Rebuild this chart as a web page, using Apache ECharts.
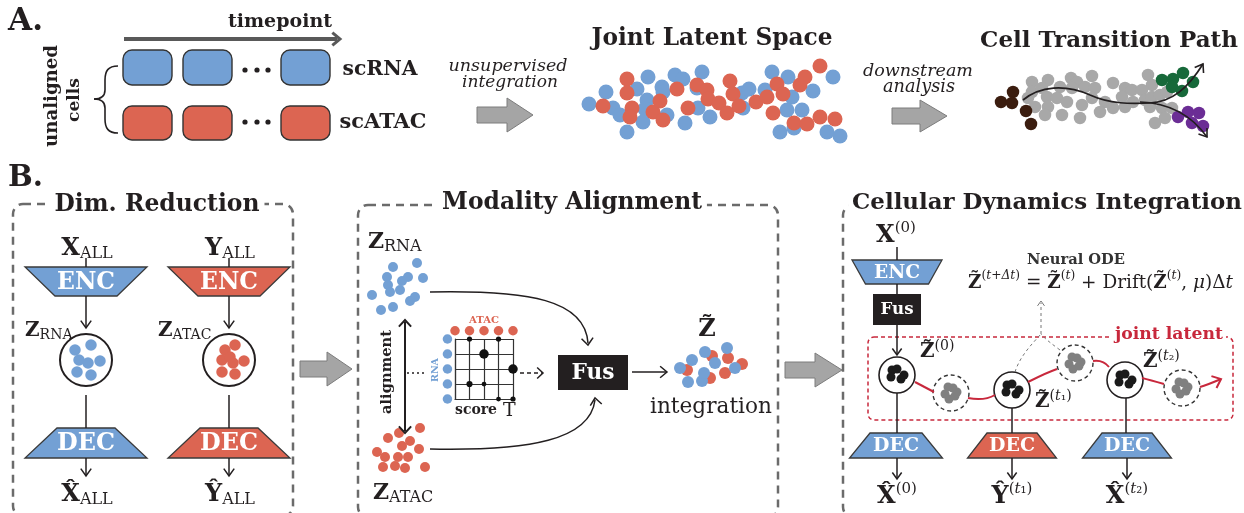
<!DOCTYPE html>
<html>
<head>
<meta charset="utf-8">
<script src="https://cdn.jsdelivr.net/npm/echarts@6/dist/echarts.min.js"></script>
<style>
html, body { margin: 0; padding: 0; background: #fff; }
#main { width: 1244px; height: 513px; }
</style>
</head>
<body>
<div id="main"></div>
<script>
// ---- data: cell embeddings ----
const jointBlue = [[589,104],[606,92],[613,108],[620,115],[627,132],[637,89],[648,77],[647,100],[645,109],[643,122],[662,87],[663,92],[667,115],[675,75],[683,79],[685,123],[698,108],[697,88],[702,72],[710,117],[742,93],[749,89],[743,108],[765,90],[772,72],[788,77],[792,97],[787,110],[802,110],[813,91],[833,77],[780,132],[794,128],[827,132],[840,136]];
const jointRed = [[603,106],[627,79],[627,93],[632,108],[630,117],[653,112],[660,101],[663,120],[677,89],[688,108],[697,85],[707,90],[708,99],[719,103],[730,81],[733,94],[739,106],[727,113],[756,102],[767,97],[777,84],[783,94],[773,113],[800,85],[805,77],[794,123],[807,124],[820,66],[820,117],[835,119]];

const pathGray = [[1032,82],[1048,80],[1071,78],[1077,82],[1092,76],[1032,92],[1042,88],[1060,87],[1072,88],[1085,87],[1095,88],[1113,83],[1125,88],[1132,90],[1148,75],[1152,85],[1142,90],[1047,97],[1057,98],[1048,107],[1035,107],[1067,102],[1082,105],[1092,98],[1105,102],[1113,108],[1122,97],[1133,102],[1145,100],[1152,97],[1160,95],[1167,92],[1045,115],[1062,115],[1080,118],[1100,112],[1125,107],[1150,107],[1162,108],[1172,108],[1165,118],[1155,123],[1028,98]];
const pathBrown = [[1001,102],[1013,92],[1012,103],[1026,111],[1031,124]];
const pathGreen = [[1162,80],[1173,79],[1183,73],[1193,82],[1172,87],[1182,91]];
const pathPurple = [[1178,117],[1188,112],[1199,113],[1192,123],[1203,126]];

const dimBlue = [[75,350],[91,345],[79,360],[88,363],[100,361],[77,372],[91,375]];
const dimRed = [[235,345],[225,350],[222,360],[233,363],[244,361],[230,357],[222,372],[235,374]];

const alignBlue = [[393,267],[417,263],[387,277],[408,277],[402,281],[423,278],[388,285],[390,292],[400,290],[372,295],[415,297],[410,301],[393,307],[381,310]];
const alignRed = [[420,428],[399,433],[388,438],[410,441],[402,446],[419,449],[377,452],[385,457],[398,457],[408,457],[383,467],[395,466],[405,468],[425,467]];

const mixRed = [[687,370],[712,356],[728,358],[742,364],[725,373],[710,378]];
const mixBlue = [[680,368],[692,360],[705,352],[715,363],[727,348],[735,368],[688,382],[702,381],[704,373]];

const latentSolid = [[892,370],[897,369],[891,377],[901,379],[904,375],[1007,385],[1012,384],[1006,392],[1016,394],[1019,390],[1120,375],[1125,374],[1119,382],[1129,384],[1132,380]];
const latentGhost = [[948,387],[953,388],[945,394],[949,399],[955,396],[957,392],[1072,357],[1077,358],[1069,364],[1073,369],[1079,366],[1081,362],[1179,382],[1184,383],[1176,389],[1180,394],[1186,391],[1188,387]];

// score matrix T: [atac column, rna row, weight]
const atacBins = [0, 1, 2, 3, 4];
const rnaBins = [0, 1, 2, 3, 4];
const scoreT = [[1,0,0.55],[3,0,0.55],[2,1,1],[4,2,1],[1,3,0.65],[2,3,0.5],[3,4,0.5],[4,4,0.55]];

// ---- drawing helpers ----
const SERIF = '"DejaVu Serif", "Liberation Serif", serif';
const BLUE = '#73A0D4', RED = '#DC6552', INK = '#231F20', DASH = '#6B6B6B', JRED = '#C8283C';

const mctx = document.createElement('canvas').getContext('2d');
function textWidth(font, s) { mctx.font = font; return mctx.measureText(s).width; }
function fontStr(size, flags) {
  flags = flags || '';
  return (flags.indexOf('i') >= 0 ? 'italic ' : '') + (flags.indexOf('b') >= 0 ? 'bold ' : '') + size.toFixed(2) + 'px ' + SERIF;
}

const els = [];
function push(e, z) { e.z = z; e.silent = true; els.push(e); }

function T(x, y, text, o) {
  o = o || {};
  let size = o.size || 16;
  if (o.w) size = size * o.w / textWidth(fontStr(size, o.flags), text);
  const align = o.align || 'center';
  push({
    type: 'text', x: x, y: y, rotation: o.rot || 0,
    style: {
      text: text, font: fontStr(size, o.flags), fill: o.color || INK,
      align: align, verticalAlign: 'middle', textAlign: align, textVerticalAlign: 'middle',
      backgroundColor: o.bg || null, padding: o.pad || 0
    }
  }, 10);
}

// math-like label: parts = [text, size, flags, dy]
function M(x, y, parts, o) {
  o = o || {};
  let total = 0;
  parts.forEach(p => { total += textWidth(fontStr(p[1], p[2]), p[0]); });
  const k = o.w ? o.w / total : 1;
  let cx = o.align === 'left' ? x : x - total * k / 2;
  parts.forEach(p => {
    const f = fontStr(p[1] * k, p[2]);
    push({
      type: 'text', x: cx, y: y + (p[3] || 0) * k,
      style: { text: p[0], font: f, fill: o.color || INK, align: 'left', verticalAlign: 'middle', textAlign: 'left', textVerticalAlign: 'middle' }
    }, 10);
    cx += textWidth(f, p[0]);
  });
}

function L(x1, y1, x2, y2, o) {
  o = o || {};
  push({ type: 'line', shape: { x1, y1, x2, y2 },
    style: { stroke: o.color || INK, lineWidth: o.lw || 1.5, lineDash: o.dash || null } }, o.z || 3);
}
function head(x, y, ang, o) {
  o = o || {};
  const s = o.s || 8, a = o.a || 0.62;
  push({ type: 'polyline', shape: { points: [
      [x - s * Math.cos(ang - a), y - s * Math.sin(ang - a)], [x, y],
      [x - s * Math.cos(ang + a), y - s * Math.sin(ang + a)]] },
    style: { stroke: o.color || INK, lineWidth: o.hlw || o.lw || 1.5, fill: 'none' } }, o.z || 3);
}
function A(x1, y1, x2, y2, o) {
  L(x1, y1, x2, y2, o);
  head(x2, y2, Math.atan2(y2 - y1, x2 - x1), Object.assign({}, o, { dash: null }));
}
function C(p, o) {
  o = o || {};
  push({ type: 'bezierCurve', shape: { x1: p[0], y1: p[1], cpx1: p[2], cpy1: p[3], cpx2: p[4], cpy2: p[5], x2: p[6], y2: p[7] },
    style: { stroke: o.color || INK, lineWidth: o.lw || 1.5, fill: 'none', lineDash: o.dash || null } }, o.z || 3);
}
function R(x, y, w, h, o) {
  o = o || {};
  push({ type: 'rect', shape: { x, y, width: w, height: h, r: o.r || 0 },
    style: { fill: o.fill || 'none', stroke: o.stroke || null, lineWidth: o.lw || 1, lineDash: o.dash || null } }, o.z || 1);
}
function O(cx, cy, r, o) {
  o = o || {};
  push({ type: 'circle', shape: { cx, cy, r },
    style: { fill: o.fill || '#fff', stroke: o.stroke || null, lineWidth: o.lw || 1, lineDash: o.dash || null } }, o.z || 1);
}
function P(points, o) {
  push({ type: 'polygon', shape: { points },
    style: { fill: o.fill, stroke: o.stroke || null, lineWidth: o.lw || 1 } }, o.z || 1);
}
function trap(cx, yt, yb, wt, wb, fill, label, w) {
  P([[cx - wt / 2, yt], [cx + wt / 2, yt], [cx + wb / 2, yb], [cx - wb / 2, yb]], { fill: fill, stroke: '#3A3A3A', lw: 1.3 });
  T(cx, (yt + yb) / 2 + 1, label, { flags: 'b', w: w, color: '#fff' });
}
function blockArrow(x0, xh, xt, yc, b, h) {
  P([[x0, yc - b], [xh, yc - b], [xh, yc - h], [xt, yc], [xh, yc + h], [xh, yc + b], [x0, yc + b]],
    { fill: '#A5A5A5', stroke: '#7C7C7C', lw: 1 });
}

// ================= panel A =================
T(8, 22, 'A.', { flags: 'b', w: 35, align: 'left' });
T(280, 22, 'timepoint', { flags: 'b', w: 104 });
L(124, 39, 337, 39, { color: '#595959', lw: 4 });
head(340, 39, 0, { color: '#595959', lw: 3, s: 10, a: 0.7 });

[123, 183, 281].forEach(x => {
  R(x, 50, 49, 35, { r: 9, fill: BLUE, stroke: '#333', lw: 1.4 });
  R(x, 106, 49, 34, { r: 9, fill: RED, stroke: '#333', lw: 1.4 });
});
[245, 257, 268].forEach(x => {
  O(x, 70, 2.6, { fill: INK });
  O(x, 122, 2.6, { fill: INK });
});
T(380, 70, 'scRNA', { flags: 'b', w: 75 });
T(383, 123, 'scATAC', { flags: 'b', w: 87 });
T(52, 96, 'unaligned', { flags: 'b', w: 102, rot: Math.PI / 2 });
T(75, 100, 'cells', { flags: 'b', w: 44, rot: Math.PI / 2 });
// brace
C([118, 66, 108, 66, 105, 71, 105, 80], { lw: 1.6 });
L(105, 80, 105, 90, { lw: 1.6 });
C([105, 90, 105, 96, 101, 99, 94, 99], { lw: 1.6 });
C([94, 99, 101, 99, 105, 102, 105, 108], { lw: 1.6 });
L(105, 108, 105, 119, { lw: 1.6 });
C([105, 119, 105, 128, 108, 133, 118, 133], { lw: 1.6 });

T(508, 66, 'unsupervised', { flags: 'i', w: 119 });
T(510, 83, 'integration', { flags: 'i', w: 96 });
blockArrow(477, 507, 533, 115, 8, 17);
T(712, 39, 'Joint Latent Space', { flags: 'b', w: 241 });

T(918, 71, 'downstream', { flags: 'i', w: 110 });
T(919, 87, 'analysis', { flags: 'i', w: 72 });
blockArrow(892, 920, 947, 116, 8, 16);
T(1109, 41, 'Cell Transition Path', { flags: 'b', w: 258 });
// trajectory curves (drawn over the dots)
C([1023, 100, 1040, 86, 1065, 84, 1090, 95], { z: 5, lw: 1.7 });
C([1090, 95, 1110, 104, 1130, 104, 1150, 103], { z: 5, lw: 1.7 });
C([1150, 103, 1172, 102, 1188, 88, 1203, 64], { z: 5, lw: 1.7 });
C([1140, 102, 1170, 103, 1192, 116, 1207, 137], { z: 5, lw: 1.7 });
head(1203, 64, Math.atan2(-24, 15), { z: 5, lw: 1.6, s: 9 });
head(1207, 137, Math.atan2(21, 15), { z: 5, lw: 1.6, s: 9 });

// ================= panel B =================
T(8, 178, 'B.', { flags: 'b', w: 35, align: 'left' });

// --- Dim. Reduction ---
R(13, 204, 280, 312, { r: 10, stroke: DASH, lw: 2.5, dash: [8, 6] });
T(157, 205, 'Dim. Reduction', { flags: 'b', w: 205, bg: '#fff', pad: [0, 5] });
[[86, BLUE, 'X'], [229, RED, 'Y']].forEach(c => {
  const x = c[0];
  M(x + 1, 249, [[c[2], 24, 'b', 0], ['ALL', 16, '', 5]]);
  L(x, 258, x, 267);
  trap(x, 267, 296, 122, 62, c[1], 'ENC', 58);
  A(x, 296, x, 328, { s: 9 });
  O(x, 360, 26, { stroke: INK, lw: 2 });
  L(x, 395, x, 428);
  trap(x, 428, 458, 58, 122, c[1], 'DEC', 58);
  A(x, 458, x, 476, { s: 9 });
  M(x + 1, 495, [[c[2] + '\u0302', 24, 'b', 0], ['ALL', 16, '', 5]]);
});
M(25, 331, [['Z', 20, 'b', 0], ['RNA', 14, '', 4]], { align: 'left' });
M(158, 331, [['Z', 20, 'b', 0], ['ATAC', 14, '', 4]], { align: 'left' });

blockArrow(300, 327, 352, 369, 8, 17);

// --- Modality Alignment ---
R(358, 205, 420, 312, { r: 10, stroke: DASH, lw: 2.5, dash: [8, 6] });
T(572, 203, 'Modality Alignment', { flags: 'b', w: 260, bg: '#fff', pad: [0, 5] });
M(368, 242, [['Z', 22, 'b', 0], ['RNA', 16, '', 5]], { align: 'left' });
M(373, 493, [['Z', 22, 'b', 0], ['ATAC', 16, '', 5]], { align: 'left' });
L(405, 322, 405, 431, { lw: 2 });
head(405, 320, -Math.PI / 2, { lw: 2, s: 9, a: 0.75 });
head(405, 433, Math.PI / 2, { lw: 2, s: 9, a: 0.75 });
T(387, 372, 'alignment', { flags: 'b', w: 84, rot: Math.PI / 2 });
L(407, 373, 427, 373, { dash: [2, 3] });
T(484, 320, 'ATAC', { flags: 'b', w: 30, color: RED });
T(436, 370, 'RNA', { flags: 'b', w: 24, color: BLUE, rot: Math.PI / 2 });
M(455, 410, [['score', 14, 'b', 0], [' T', 19, '', 1]], { align: 'left' });
A(520, 373, 543, 373, { dash: [4, 3], s: 8, a: 0.75 });
C([430, 292, 530, 290, 585, 300, 588, 343]);
head(588, 345, Math.PI / 2 - 0.1, { s: 9, a: 0.7 });
C([430, 449, 530, 451, 590, 440, 595, 400]);
head(595, 398, -Math.PI / 2 - 0.15, { s: 9, a: 0.7 });
R(558, 355, 70, 35, { fill: INK });
T(593, 373, 'Fus', { flags: 'b', w: 43, color: '#fff' });
A(632, 372, 667, 372, { s: 9, a: 0.7 });
M(707, 330, [['Z\u0303', 24, 'b', 0]]);
T(711, 407, 'integration', { w: 122, size: 20 });

blockArrow(785, 815, 842, 370, 8, 17);

// --- Cellular Dynamics Integration ---
R(843, 205, 420, 312, { r: 10, stroke: DASH, lw: 2.5, dash: [8, 6] });
T(1047, 203, 'Cellular Dynamics Integration', { flags: 'b', w: 390, bg: '#fff', pad: [0, 4] });
M(896, 236, [['X', 24, 'b', 0], ['(0)', 15, '', -8]]);
L(897, 247, 897, 260);
trap(897, 260, 284, 90, 63, BLUE, 'ENC', 46);
L(897, 284, 897, 294);
R(873, 294, 48, 31, { fill: INK });
T(897, 310, 'Fus', { flags: 'b', w: 33, color: '#fff' });
A(897, 325, 897, 355, { s: 8 });

R(868, 337, 365, 83, { r: 6, stroke: JRED, lw: 1.5, dash: [4, 3] });
T(1169, 335, 'joint latent', { flags: 'b', w: 108, color: JRED, bg: '#fff', pad: [0, 3] });

// red latent trajectory
L(915, 382, 934, 392, { color: JRED, lw: 2 });
C([968, 398, 978, 400, 988, 399, 995, 395], { color: JRED, lw: 2 });
C([1028, 382, 1038, 377, 1048, 372, 1057, 369], { color: JRED, lw: 2 });
C([1093, 361, 1100, 360, 1105, 362, 1109, 367], { color: JRED, lw: 2 });
C([1142, 378, 1150, 380, 1157, 382, 1164, 384], { color: JRED, lw: 2 });
C([1200, 387, 1207, 385, 1214, 382, 1221, 379], { color: JRED, lw: 2 });
head(1221, 379, Math.atan2(-3, 7), { color: JRED, lw: 2, s: 10, a: 0.7 });

// neural ODE pointer
C([1015, 372, 1020, 356, 1032, 344, 1041, 334], { color: '#777', lw: 1, dash: [3, 3] });
C([1060, 350, 1052, 344, 1045, 339, 1041, 334], { color: '#777', lw: 1, dash: [3, 3] });
L(1041, 334, 1041, 303, { color: '#777', lw: 1, dash: [3, 3] });
head(1041, 301, -Math.PI / 2, { color: '#777', lw: 1, s: 6 });

[[897, 375], [1012, 390], [1125, 380]].forEach(c => O(c[0], c[1], 18, { stroke: INK, lw: 1.6, z: 2 }));
[[951, 393], [1075, 363], [1182, 388]].forEach(c => O(c[0], c[1], 18, { stroke: '#333', lw: 1.4, dash: [4, 3], z: 2 }));

M(920, 352, [['Z\u0303', 20, 'b', 0], ['(0)', 14, '', -6]], { align: 'left' });
M(1035, 402, [['Z\u0303', 20, 'b', 0], ['(', 14, '', -6], ['t', 14, 'i', -6], ['\u2081)', 14, '', -6]], { align: 'left' });
M(1143, 362, [['Z\u0303', 20, 'b', 0], ['(', 14, '', -6], ['t', 14, 'i', -6], ['\u2082)', 14, '', -6]], { align: 'left' });

T(1076, 260, 'Neural ODE', { flags: 'b', w: 98, color: '#333' });
M(968, 283, [
  ['Z\u0303', 18, 'b', 0], ['(', 12, '', -7], ['t+\u0394t', 12, 'i', -7], [')', 12, '', -7],
  [' = ', 18, '', 0], ['Z\u0303', 18, 'b', 0], ['(', 12, '', -7], ['t', 12, 'i', -7], [')', 12, '', -7],
  [' + Drift(', 18, '', 0], ['Z\u0303', 18, 'b', 0], ['(', 12, '', -7], ['t', 12, 'i', -7], [')', 12, '', -7],
  [', ', 18, '', 0], ['\u03bc', 18, 'i', 0], [')\u0394', 18, '', 0], ['t', 18, 'i', 0]
], { align: 'left', w: 265 });

L(897, 393, 897, 433); L(1012, 408, 1012, 433); L(1126, 398, 1126, 433);
trap(896, 433, 458, 52, 93, BLUE, 'DEC', 46);
trap(1012, 433, 458, 50, 89, RED, 'DEC', 46);
trap(1127, 433, 458, 50, 89, BLUE, 'DEC', 46);
A(897, 458, 897, 479, { s: 8 });
A(1012, 458, 1012, 479, { s: 8 });
A(1127, 458, 1127, 479, { s: 8 });
M(897, 497, [['X\u0302', 24, 'b', 0], ['(0)', 15, '', -8]]);
M(1012, 497, [['Y\u0302', 24, 'b', 0], ['(', 15, '', -8], ['t', 15, 'i', -8], ['\u2081)', 15, '', -8]]);
M(1127, 497, [['X\u0302', 24, 'b', 0], ['(', 15, '', -8], ['t', 15, 'i', -8], ['\u2082)', 15, '', -8]]);

// ---- chart ----
function dots(data, size, color, z) {
  return { type: 'scatter', xAxisIndex: 0, yAxisIndex: 0, data: data, symbolSize: size,
    itemStyle: { color: color, opacity: 1 }, silent: true, z: z || 2, clip: false };
}
const axisHidden = { show: false };
const gridLine = { show: true, lineStyle: { color: '#333', width: 1.2 } };

const option = {
  animation: false,
  grid: [
    { left: 0, top: 0, width: 1244, height: 513 },
    { left: 455, top: 339, width: 58, height: 60 }
  ],
  xAxis: [
    { type: 'value', gridIndex: 0, min: 0, max: 1244, show: false },
    { type: 'value', gridIndex: 1, min: 0, max: 4, interval: 1,
      axisLine: { show: true, onZero: false, lineStyle: { color: '#333', width: 1.2 } },
      axisTick: axisHidden, axisLabel: axisHidden, splitLine: gridLine }
  ],
  yAxis: [
    { type: 'value', gridIndex: 0, min: 0, max: 513, inverse: true, show: false },
    { type: 'value', gridIndex: 1, min: 0, max: 4, interval: 1, inverse: true,
      axisLine: { show: true, onZero: false, lineStyle: { color: '#333', width: 1.2 } },
      axisTick: axisHidden, axisLabel: axisHidden, splitLine: gridLine }
  ],
  graphic: { elements: els },
  series: [
    dots(jointBlue, 15, BLUE),
    dots(jointRed, 15, RED),
    dots(pathGray, 12.5, '#A8A8A8'),
    dots(pathBrown, 12.5, '#3B1D0F'),
    dots(pathGreen, 12.5, '#17693A'),
    dots(pathPurple, 12.5, '#6B2D95'),
    dots(dimBlue, 11.5, BLUE),
    dots(dimRed, 11.5, RED),
    dots(alignBlue, 10, BLUE),
    dots(alignRed, 10, RED),
    dots(mixRed, 12, RED),
    dots(mixBlue, 12, BLUE),
    dots(latentSolid, 9, '#1A1A1A', 3),
    dots(latentGhost, 9, '#808080', 3),
    { type: 'scatter', xAxisIndex: 1, yAxisIndex: 1, clip: false, silent: true,
      data: atacBins.map(i => [i, -0.55]), symbolSize: 9.5, itemStyle: { color: RED, opacity: 1 } },
    { type: 'scatter', xAxisIndex: 1, yAxisIndex: 1, clip: false, silent: true,
      data: rnaBins.map(i => [-0.52, i]), symbolSize: 9.5, itemStyle: { color: BLUE, opacity: 1 } },
    { type: 'scatter', xAxisIndex: 1, yAxisIndex: 1, clip: false, silent: true,
      data: scoreT, symbolSize: v => v[2] * 9.5, itemStyle: { color: '#111', opacity: 1 } }
  ]
};

const chart = echarts.init(document.getElementById('main'));
chart.setOption(option);
</script>
</body>
</html>
